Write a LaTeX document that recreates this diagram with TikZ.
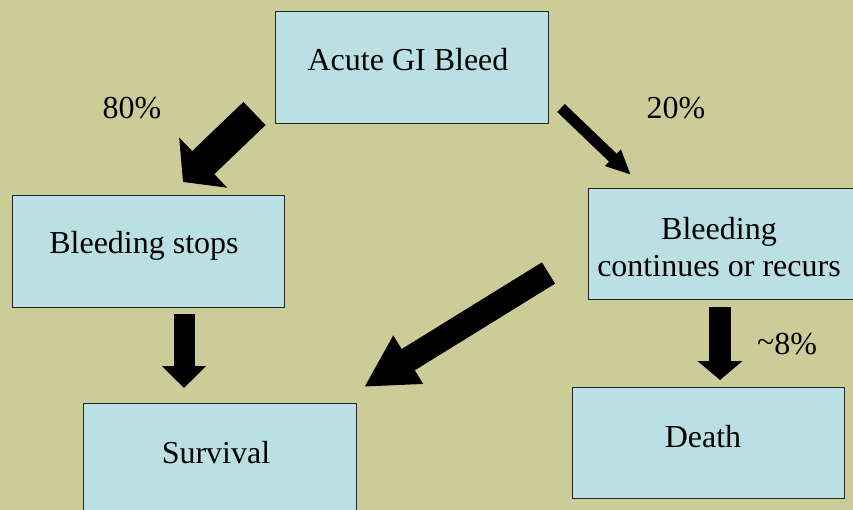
\documentclass[tikz,border=0pt]{standalone}
\usepackage{fontspec}
\setmainfont{Liberation Serif}
\usetikzlibrary{arrows.meta}
\definecolor{bg}{HTML}{CCCC99}
\definecolor{boxfill}{HTML}{BBE0E3}
\begin{document}
\begin{tikzpicture}[x=1pt,y=-1pt,
  box/.style={draw=black!85,line width=1pt,fill=boxfill,inner sep=0pt,anchor=north west},
  txt/.style={font=\fontsize{32}{38}\selectfont,inner sep=0pt,anchor=base},
  blk/.style={line width=#1,draw=black},
]
\fill[bg] (0,0) rectangle (853,510);
\useasboundingbox (0,0) rectangle (853,510);
% boxes
\node[box,minimum width=273pt,minimum height=112pt] (acute) at (275,11) {};
\node[box,minimum width=272pt,minimum height=112pt] (stops) at (12,195) {};
\node[box,minimum width=272pt,minimum height=111pt] (cont) at (588,188) {};
\node[box,minimum width=273pt,minimum height=120pt] (surv) at (83,403) {};
\node[box,minimum width=272pt,minimum height=111pt] (death) at (572,387) {};
% texts
\node[txt] (tacute) at (408,71) {Acute GI Bleed};
\node[txt] (tstops) at (144,254) {Bleeding stops};
\node[txt] (tcont1) at (719,240) {Bleeding};
\node[txt] (tcont2) at (719,277) {continues or recurs};
\node[txt] (tsurv) at (216,463) {Survival};
\node[txt] (tdeath) at (703,447) {Death};
\node[txt] (l80) at (132,119) {80\%};
\node[txt] (l20) at (676,119) {20\%};
\node[txt] (l8) at (787,354) {\raisebox{0.1ex}{\char`~}8\%};
% arrow endpoints
\coordinate (a1s) at (254.5,113.5);
\coordinate (a1e) at (183,182);
\coordinate (a2s) at (561,108);
\coordinate (a2e) at (631,175);
\coordinate (a3s) at (548.5,273);
\coordinate (a3e) at (364,387);
\coordinate (a4s) at (184,314);
\coordinate (a4e) at (184,388);
\coordinate (a5s) at (720,307);
\coordinate (a5e) at (720,380);
% block arrows
\draw[blk=32pt,-{Triangle[width=68pt,length=28pt]}] (a1s) -- (a1e);
\draw[blk=11pt,-{Triangle[width=21pt,length=25pt]}] (a2s) -- (a2e);
\draw[blk=25pt,-{Triangle[width=53pt,length=52pt]}] (a3s) -- (a3e);
\draw[blk=21pt,-{Triangle[width=43pt,length=22pt]}] (a4s) -- (a4e);
\draw[blk=22pt,-{Triangle[width=44pt,length=19pt]}] (a5s) -- (a5e);
\end{tikzpicture}
\end{document}
